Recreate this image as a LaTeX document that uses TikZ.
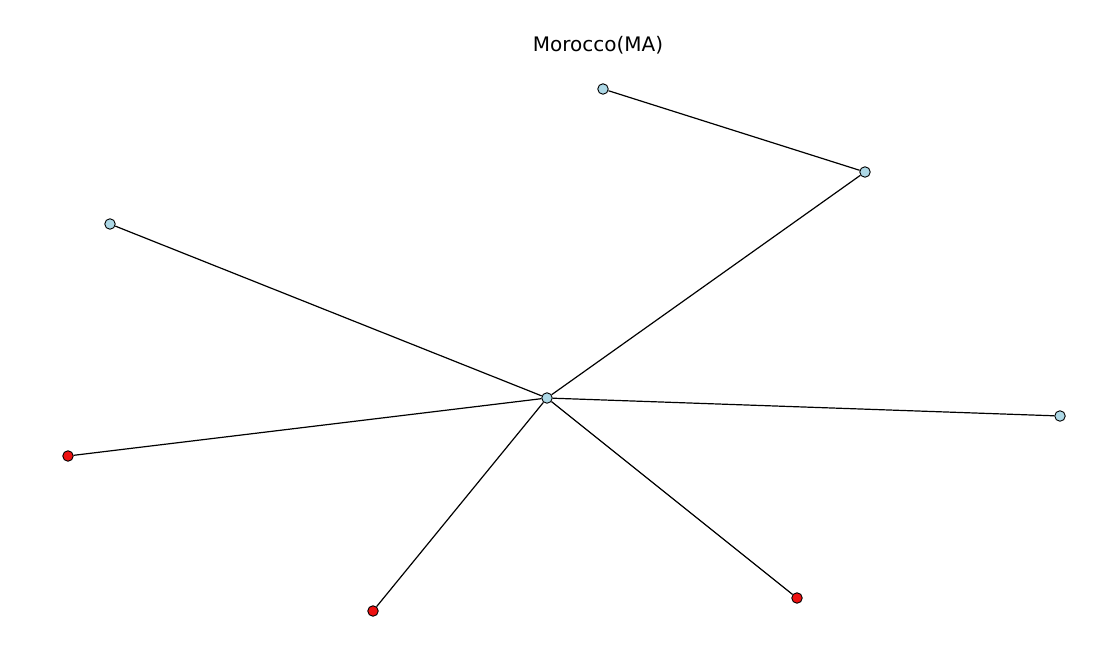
\documentclass[tikz,border=0pt]{standalone}
\usepackage{fontspec}
\setmainfont{DejaVu Sans}
\definecolor{lblue}{HTML}{ADD8E6}
\definecolor{nred}{HTML}{EE1111}
\tikzset{
  vtx/.style={circle,draw=black,line width=0.9pt,minimum size=10.5pt,inner sep=0pt},
  bl/.style={vtx,fill=lblue},
  rd/.style={vtx,fill=nred},
  edge/.style={draw=black,line width=1.2pt}
}
\begin{document}
\begin{tikzpicture}[x=1pt,y=-1pt]
\useasboundingbox (0,0) rectangle (1100,650);
\node[font=\fontsize{20}{24}\selectfont] (title) at (598,45) {Morocco(MA)};
\node[bl] (C) at (547,398) {};
\node[bl] (A) at (603,89) {};
\node[bl] (B) at (865,172) {};
\node[bl] (D) at (110,224) {};
\node[bl] (E) at (1060,416) {};
\node[rd] (F) at (68,456) {};
\node[rd] (G) at (373,611) {};
\node[rd] (H) at (797,598) {};
\path[edge] (A) -- (B);
\path[edge] (B) -- (C);
\path[edge] (D) -- (C);
\path[edge] (E) -- (C);
\path[edge] (F) -- (C);
\path[edge] (G) -- (C);
\path[edge] (H) -- (C);
\end{tikzpicture}
\end{document}
